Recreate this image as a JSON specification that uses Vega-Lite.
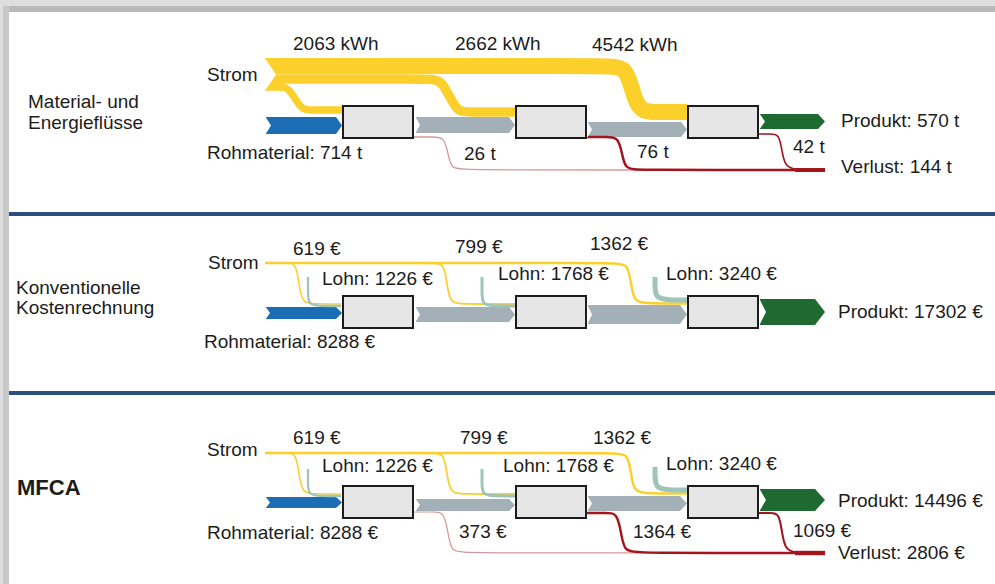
{
  "$schema": "https://vega.github.io/schema/vega-lite/v6.json",
  "width": 995,
  "height": 584,
  "autosize": {"type": "fit", "contains": "padding"},
  "padding": 0,
  "background": "white",
  "config": {"view": {"stroke": null}},
  "datasets": {
    "frame": [
      {"part": "Rahmen hell", "x": 0, "x2": 995, "y": 0, "y2": 6},
      {"part": "Rahmen dunkel", "x": 0, "x2": 995, "y": 6, "y2": 12},
      {"part": "Rahmen hell", "x": 0, "x2": 3, "y": 0, "y2": 584},
      {"part": "Rahmen links", "x": 3, "x2": 9, "y": 6, "y2": 584},
      {"part": "Trennlinie", "x": 9, "x2": 995, "y": 212, "y2": 216},
      {"part": "Trennlinie", "x": 9, "x2": 995, "y": 391, "y2": 395}
    ],
    "shapes": [
      {"shape": "P1 Rohmaterial", "part": "Rohmaterial", "x": 266, "y": 117, "y2": 134},
      {"shape": "P1 Rohmaterial", "part": "Rohmaterial", "x": 336, "y": 117, "y2": 134},
      {"shape": "P1 Rohmaterial", "part": "Rohmaterial", "x": 342, "y": 125.5, "y2": 125.5},
      {"shape": "P1 Zwischen 1", "part": "Zwischenprodukt", "x": 416, "y": 117, "y2": 133},
      {"shape": "P1 Zwischen 1", "part": "Zwischenprodukt", "x": 509, "y": 117, "y2": 133},
      {"shape": "P1 Zwischen 1", "part": "Zwischenprodukt", "x": 515, "y": 125, "y2": 125},
      {"shape": "P1 Zwischen 2", "part": "Zwischenprodukt", "x": 588, "y": 122, "y2": 137},
      {"shape": "P1 Zwischen 2", "part": "Zwischenprodukt", "x": 681, "y": 122, "y2": 137},
      {"shape": "P1 Zwischen 2", "part": "Zwischenprodukt", "x": 687, "y": 129.5, "y2": 129.5},
      {"shape": "P1 Produkt", "part": "Produkt", "x": 760, "y": 114, "y2": 129},
      {"shape": "P1 Produkt", "part": "Produkt", "x": 818, "y": 114, "y2": 129},
      {"shape": "P1 Produkt", "part": "Produkt", "x": 825, "y": 121.5, "y2": 121.5},
      {"shape": "P2 Rohmaterial", "part": "Rohmaterial", "x": 266, "y": 307, "y2": 319},
      {"shape": "P2 Rohmaterial", "part": "Rohmaterial", "x": 336, "y": 307, "y2": 319},
      {"shape": "P2 Rohmaterial", "part": "Rohmaterial", "x": 342, "y": 313, "y2": 313},
      {"shape": "P2 Zwischen 1", "part": "Zwischenprodukt", "x": 416, "y": 307, "y2": 322},
      {"shape": "P2 Zwischen 1", "part": "Zwischenprodukt", "x": 509, "y": 307, "y2": 322},
      {"shape": "P2 Zwischen 1", "part": "Zwischenprodukt", "x": 515, "y": 314.5, "y2": 314.5},
      {"shape": "P2 Zwischen 2", "part": "Zwischenprodukt", "x": 588, "y": 305, "y2": 324},
      {"shape": "P2 Zwischen 2", "part": "Zwischenprodukt", "x": 680, "y": 305, "y2": 324},
      {"shape": "P2 Zwischen 2", "part": "Zwischenprodukt", "x": 687, "y": 314.5, "y2": 314.5},
      {"shape": "P2 Produkt", "part": "Produkt", "x": 760, "y": 299, "y2": 325},
      {"shape": "P2 Produkt", "part": "Produkt", "x": 815, "y": 299, "y2": 325},
      {"shape": "P2 Produkt", "part": "Produkt", "x": 825, "y": 312, "y2": 312},
      {"shape": "P3 Rohmaterial", "part": "Rohmaterial", "x": 266, "y": 497, "y2": 508},
      {"shape": "P3 Rohmaterial", "part": "Rohmaterial", "x": 336, "y": 497, "y2": 508},
      {"shape": "P3 Rohmaterial", "part": "Rohmaterial", "x": 342, "y": 502.5, "y2": 502.5},
      {"shape": "P3 Zwischen 1", "part": "Zwischenprodukt", "x": 416, "y": 499, "y2": 511},
      {"shape": "P3 Zwischen 1", "part": "Zwischenprodukt", "x": 509, "y": 499, "y2": 511},
      {"shape": "P3 Zwischen 1", "part": "Zwischenprodukt", "x": 515, "y": 505, "y2": 505},
      {"shape": "P3 Zwischen 2", "part": "Zwischenprodukt", "x": 588, "y": 496, "y2": 511},
      {"shape": "P3 Zwischen 2", "part": "Zwischenprodukt", "x": 680, "y": 496, "y2": 511},
      {"shape": "P3 Zwischen 2", "part": "Zwischenprodukt", "x": 687, "y": 503.5, "y2": 503.5},
      {"shape": "P3 Produkt", "part": "Produkt", "x": 760, "y": 489, "y2": 511},
      {"shape": "P3 Produkt", "part": "Produkt", "x": 815, "y": 489, "y2": 511},
      {"shape": "P3 Produkt", "part": "Produkt", "x": 825, "y": 500, "y2": 500},

      {"shape": "K P1 Strom", "part": "Kerbe", "x": 264, "y": 57, "y2": 92},
      {"shape": "K P1 Strom", "part": "Kerbe", "x": 276, "y": 74.5, "y2": 74.5},
      {"shape": "K P1 Roh", "part": "Kerbe", "x": 265, "y": 116, "y2": 135},
      {"shape": "K P1 Roh", "part": "Kerbe", "x": 271, "y": 125.5, "y2": 125.5},
      {"shape": "K P1 Z1", "part": "Kerbe", "x": 415, "y": 116, "y2": 134},
      {"shape": "K P1 Z1", "part": "Kerbe", "x": 420, "y": 125, "y2": 125},
      {"shape": "K P1 Z2", "part": "Kerbe", "x": 587, "y": 121, "y2": 138},
      {"shape": "K P1 Z2", "part": "Kerbe", "x": 592, "y": 129.5, "y2": 129.5},
      {"shape": "K P1 Prod", "part": "Kerbe", "x": 759, "y": 113, "y2": 130},
      {"shape": "K P1 Prod", "part": "Kerbe", "x": 765, "y": 121.5, "y2": 121.5},
      {"shape": "K P2 Roh", "part": "Kerbe", "x": 265, "y": 306, "y2": 320},
      {"shape": "K P2 Roh", "part": "Kerbe", "x": 270, "y": 313, "y2": 313},
      {"shape": "K P2 Z1", "part": "Kerbe", "x": 415, "y": 306, "y2": 323},
      {"shape": "K P2 Z1", "part": "Kerbe", "x": 420, "y": 314.5, "y2": 314.5},
      {"shape": "K P2 Z2", "part": "Kerbe", "x": 587, "y": 304, "y2": 325},
      {"shape": "K P2 Z2", "part": "Kerbe", "x": 592, "y": 314.5, "y2": 314.5},
      {"shape": "K P2 Prod", "part": "Kerbe", "x": 759, "y": 298, "y2": 326},
      {"shape": "K P2 Prod", "part": "Kerbe", "x": 766, "y": 312, "y2": 312},
      {"shape": "K P3 Roh", "part": "Kerbe", "x": 265, "y": 496, "y2": 509},
      {"shape": "K P3 Roh", "part": "Kerbe", "x": 270, "y": 502.5, "y2": 502.5},
      {"shape": "K P3 Z1", "part": "Kerbe", "x": 415, "y": 498, "y2": 512},
      {"shape": "K P3 Z1", "part": "Kerbe", "x": 420, "y": 505, "y2": 505},
      {"shape": "K P3 Z2", "part": "Kerbe", "x": 587, "y": 495, "y2": 512},
      {"shape": "K P3 Z2", "part": "Kerbe", "x": 592, "y": 503.5, "y2": 503.5},
      {"shape": "K P3 Prod", "part": "Kerbe", "x": 759, "y": 488, "y2": 512},
      {"shape": "K P3 Prod", "part": "Kerbe", "x": 766, "y": 500, "y2": 500}
    ],
    "flows": [
      {"flow": "P1 Strom 1", "part": "Strom", "unit": "kWh", "amount": 2063, "i": 0, "x": 265, "y": 87},
      {"flow": "P1 Strom 1", "part": "Strom", "unit": "kWh", "amount": 2063, "i": 1, "x": 280, "y": 87},
      {"flow": "P1 Strom 1", "part": "Strom", "unit": "kWh", "amount": 2063, "i": 2, "x": 289, "y": 87},
      {"flow": "P1 Strom 1", "part": "Strom", "unit": "kWh", "amount": 2063, "i": 3, "x": 301, "y": 110},
      {"flow": "P1 Strom 1", "part": "Strom", "unit": "kWh", "amount": 2063, "i": 4, "x": 311, "y": 110},
      {"flow": "P1 Strom 1", "part": "Strom", "unit": "kWh", "amount": 2063, "i": 5, "x": 342, "y": 110},
      {"flow": "P1 Strom 2", "part": "Strom", "unit": "kWh", "amount": 2662, "i": 0, "x": 265, "y": 79},
      {"flow": "P1 Strom 2", "part": "Strom", "unit": "kWh", "amount": 2662, "i": 1, "x": 430, "y": 79},
      {"flow": "P1 Strom 2", "part": "Strom", "unit": "kWh", "amount": 2662, "i": 2, "x": 442, "y": 79},
      {"flow": "P1 Strom 2", "part": "Strom", "unit": "kWh", "amount": 2662, "i": 3, "x": 456, "y": 112},
      {"flow": "P1 Strom 2", "part": "Strom", "unit": "kWh", "amount": 2662, "i": 4, "x": 468, "y": 112},
      {"flow": "P1 Strom 2", "part": "Strom", "unit": "kWh", "amount": 2662, "i": 5, "x": 515, "y": 112},
      {"flow": "P1 Strom 3", "part": "Strom", "unit": "kWh", "amount": 4542, "i": 0, "x": 265, "y": 66},
      {"flow": "P1 Strom 3", "part": "Strom", "unit": "kWh", "amount": 4542, "i": 1, "x": 606, "y": 66},
      {"flow": "P1 Strom 3", "part": "Strom", "unit": "kWh", "amount": 4542, "i": 2, "x": 625, "y": 66},
      {"flow": "P1 Strom 3", "part": "Strom", "unit": "kWh", "amount": 4542, "i": 3, "x": 632, "y": 89},
      {"flow": "P1 Strom 3", "part": "Strom", "unit": "kWh", "amount": 4542, "i": 4, "x": 639, "y": 112},
      {"flow": "P1 Strom 3", "part": "Strom", "unit": "kWh", "amount": 4542, "i": 5, "x": 658, "y": 112},
      {"flow": "P1 Strom 3", "part": "Strom", "unit": "kWh", "amount": 4542, "i": 6, "x": 687, "y": 112},

      {"flow": "P1 Verlust 1", "part": "Verlust Schritt 1", "unit": "t", "amount": 26, "i": 0, "x": 414, "y": 137},
      {"flow": "P1 Verlust 1", "part": "Verlust Schritt 1", "unit": "t", "amount": 26, "i": 1, "x": 433, "y": 137},
      {"flow": "P1 Verlust 1", "part": "Verlust Schritt 1", "unit": "t", "amount": 26, "i": 2, "x": 444, "y": 137},
      {"flow": "P1 Verlust 1", "part": "Verlust Schritt 1", "unit": "t", "amount": 26, "i": 3, "x": 448, "y": 153},
      {"flow": "P1 Verlust 1", "part": "Verlust Schritt 1", "unit": "t", "amount": 26, "i": 4, "x": 451, "y": 169},
      {"flow": "P1 Verlust 1", "part": "Verlust Schritt 1", "unit": "t", "amount": 26, "i": 5, "x": 464, "y": 170},
      {"flow": "P1 Verlust 1", "part": "Verlust Schritt 1", "unit": "t", "amount": 26, "i": 6, "x": 800, "y": 170},
      {"flow": "P1 Verlust 2", "part": "Verlust", "unit": "t", "amount": 76, "i": 0, "x": 586, "y": 137},
      {"flow": "P1 Verlust 2", "part": "Verlust", "unit": "t", "amount": 76, "i": 1, "x": 607, "y": 137},
      {"flow": "P1 Verlust 2", "part": "Verlust", "unit": "t", "amount": 76, "i": 2, "x": 618, "y": 137},
      {"flow": "P1 Verlust 2", "part": "Verlust", "unit": "t", "amount": 76, "i": 3, "x": 622, "y": 153},
      {"flow": "P1 Verlust 2", "part": "Verlust", "unit": "t", "amount": 76, "i": 4, "x": 625, "y": 169},
      {"flow": "P1 Verlust 2", "part": "Verlust", "unit": "t", "amount": 76, "i": 5, "x": 638, "y": 170},
      {"flow": "P1 Verlust 2", "part": "Verlust", "unit": "t", "amount": 76, "i": 6, "x": 800, "y": 170},
      {"flow": "P1 Verlust 3", "part": "Verlust", "unit": "t", "amount": 42, "i": 0, "x": 758, "y": 134},
      {"flow": "P1 Verlust 3", "part": "Verlust", "unit": "t", "amount": 42, "i": 1, "x": 771, "y": 134},
      {"flow": "P1 Verlust 3", "part": "Verlust", "unit": "t", "amount": 42, "i": 2, "x": 779, "y": 134},
      {"flow": "P1 Verlust 3", "part": "Verlust", "unit": "t", "amount": 42, "i": 3, "x": 782, "y": 151},
      {"flow": "P1 Verlust 3", "part": "Verlust", "unit": "t", "amount": 42, "i": 4, "x": 785, "y": 167},
      {"flow": "P1 Verlust 3", "part": "Verlust", "unit": "t", "amount": 42, "i": 5, "x": 797, "y": 170},
      {"flow": "P1 Verlust 3", "part": "Verlust", "unit": "t", "amount": 42, "i": 6, "x": 810, "y": 170},
      {"flow": "P1 Verlust gesamt", "part": "Verlust", "unit": "t", "amount": 144, "i": 0, "x": 795, "y": 170},
      {"flow": "P1 Verlust gesamt", "part": "Verlust", "unit": "t", "amount": 144, "i": 1, "x": 825, "y": 170},

      {"flow": "P2 Strom 1", "part": "Strom", "unit": "EUR", "amount": 619, "i": 0, "x": 265, "y": 263},
      {"flow": "P2 Strom 1", "part": "Strom", "unit": "EUR", "amount": 619, "i": 1, "x": 287, "y": 263},
      {"flow": "P2 Strom 1", "part": "Strom", "unit": "EUR", "amount": 619, "i": 2, "x": 296, "y": 263},
      {"flow": "P2 Strom 1", "part": "Strom", "unit": "EUR", "amount": 619, "i": 3, "x": 299, "y": 284},
      {"flow": "P2 Strom 1", "part": "Strom", "unit": "EUR", "amount": 619, "i": 4, "x": 302, "y": 303},
      {"flow": "P2 Strom 1", "part": "Strom", "unit": "EUR", "amount": 619, "i": 5, "x": 314, "y": 304},
      {"flow": "P2 Strom 1", "part": "Strom", "unit": "EUR", "amount": 619, "i": 6, "x": 341, "y": 304},
      {"flow": "P2 Strom 2", "part": "Strom", "unit": "EUR", "amount": 799, "i": 0, "x": 265, "y": 263},
      {"flow": "P2 Strom 2", "part": "Strom", "unit": "EUR", "amount": 799, "i": 1, "x": 433, "y": 263},
      {"flow": "P2 Strom 2", "part": "Strom", "unit": "EUR", "amount": 799, "i": 2, "x": 444, "y": 263},
      {"flow": "P2 Strom 2", "part": "Strom", "unit": "EUR", "amount": 799, "i": 3, "x": 447, "y": 284},
      {"flow": "P2 Strom 2", "part": "Strom", "unit": "EUR", "amount": 799, "i": 4, "x": 450, "y": 303},
      {"flow": "P2 Strom 2", "part": "Strom", "unit": "EUR", "amount": 799, "i": 5, "x": 462, "y": 304},
      {"flow": "P2 Strom 2", "part": "Strom", "unit": "EUR", "amount": 799, "i": 6, "x": 515, "y": 304},
      {"flow": "P2 Strom 3", "part": "Strom", "unit": "EUR", "amount": 1362, "i": 0, "x": 265, "y": 263},
      {"flow": "P2 Strom 3", "part": "Strom", "unit": "EUR", "amount": 1362, "i": 1, "x": 614, "y": 263},
      {"flow": "P2 Strom 3", "part": "Strom", "unit": "EUR", "amount": 1362, "i": 2, "x": 628, "y": 263},
      {"flow": "P2 Strom 3", "part": "Strom", "unit": "EUR", "amount": 1362, "i": 3, "x": 631, "y": 284},
      {"flow": "P2 Strom 3", "part": "Strom", "unit": "EUR", "amount": 1362, "i": 4, "x": 634, "y": 302},
      {"flow": "P2 Strom 3", "part": "Strom", "unit": "EUR", "amount": 1362, "i": 5, "x": 647, "y": 303.5},
      {"flow": "P2 Strom 3", "part": "Strom", "unit": "EUR", "amount": 1362, "i": 6, "x": 687, "y": 303.5},
      {"flow": "P2 Lohn 1", "part": "Lohn", "unit": "EUR", "amount": 1226, "i": 0, "x": 308, "y": 277},
      {"flow": "P2 Lohn 1", "part": "Lohn", "unit": "EUR", "amount": 1226, "i": 1, "x": 308, "y": 291},
      {"flow": "P2 Lohn 1", "part": "Lohn", "unit": "EUR", "amount": 1226, "i": 2, "x": 308, "y": 305},
      {"flow": "P2 Lohn 1", "part": "Lohn", "unit": "EUR", "amount": 1226, "i": 3, "x": 320, "y": 306},
      {"flow": "P2 Lohn 1", "part": "Lohn", "unit": "EUR", "amount": 1226, "i": 4, "x": 341, "y": 306},
      {"flow": "P2 Lohn 2", "part": "Lohn", "unit": "EUR", "amount": 1768, "i": 0, "x": 482, "y": 277},
      {"flow": "P2 Lohn 2", "part": "Lohn", "unit": "EUR", "amount": 1768, "i": 1, "x": 482, "y": 291},
      {"flow": "P2 Lohn 2", "part": "Lohn", "unit": "EUR", "amount": 1768, "i": 2, "x": 482, "y": 305},
      {"flow": "P2 Lohn 2", "part": "Lohn", "unit": "EUR", "amount": 1768, "i": 3, "x": 494, "y": 306},
      {"flow": "P2 Lohn 2", "part": "Lohn", "unit": "EUR", "amount": 1768, "i": 4, "x": 515, "y": 306},
      {"flow": "P2 Lohn 3", "part": "Lohn", "unit": "EUR", "amount": 3240, "i": 0, "x": 655, "y": 277},
      {"flow": "P2 Lohn 3", "part": "Lohn", "unit": "EUR", "amount": 3240, "i": 1, "x": 655, "y": 288},
      {"flow": "P2 Lohn 3", "part": "Lohn", "unit": "EUR", "amount": 3240, "i": 2, "x": 656, "y": 298},
      {"flow": "P2 Lohn 3", "part": "Lohn", "unit": "EUR", "amount": 3240, "i": 3, "x": 668, "y": 300},
      {"flow": "P2 Lohn 3", "part": "Lohn", "unit": "EUR", "amount": 3240, "i": 4, "x": 687, "y": 300},

      {"flow": "P3 Strom 1", "part": "Strom", "unit": "EUR", "amount": 619, "i": 0, "x": 265, "y": 453},
      {"flow": "P3 Strom 1", "part": "Strom", "unit": "EUR", "amount": 619, "i": 1, "x": 287, "y": 453},
      {"flow": "P3 Strom 1", "part": "Strom", "unit": "EUR", "amount": 619, "i": 2, "x": 296, "y": 453},
      {"flow": "P3 Strom 1", "part": "Strom", "unit": "EUR", "amount": 619, "i": 3, "x": 299, "y": 474},
      {"flow": "P3 Strom 1", "part": "Strom", "unit": "EUR", "amount": 619, "i": 4, "x": 302, "y": 493},
      {"flow": "P3 Strom 1", "part": "Strom", "unit": "EUR", "amount": 619, "i": 5, "x": 314, "y": 494},
      {"flow": "P3 Strom 1", "part": "Strom", "unit": "EUR", "amount": 619, "i": 6, "x": 341, "y": 494},
      {"flow": "P3 Strom 2", "part": "Strom", "unit": "EUR", "amount": 799, "i": 0, "x": 265, "y": 453},
      {"flow": "P3 Strom 2", "part": "Strom", "unit": "EUR", "amount": 799, "i": 1, "x": 433, "y": 453},
      {"flow": "P3 Strom 2", "part": "Strom", "unit": "EUR", "amount": 799, "i": 2, "x": 444, "y": 453},
      {"flow": "P3 Strom 2", "part": "Strom", "unit": "EUR", "amount": 799, "i": 3, "x": 447, "y": 474},
      {"flow": "P3 Strom 2", "part": "Strom", "unit": "EUR", "amount": 799, "i": 4, "x": 450, "y": 493},
      {"flow": "P3 Strom 2", "part": "Strom", "unit": "EUR", "amount": 799, "i": 5, "x": 462, "y": 494},
      {"flow": "P3 Strom 2", "part": "Strom", "unit": "EUR", "amount": 799, "i": 6, "x": 515, "y": 494},
      {"flow": "P3 Strom 3", "part": "Strom", "unit": "EUR", "amount": 1362, "i": 0, "x": 265, "y": 453},
      {"flow": "P3 Strom 3", "part": "Strom", "unit": "EUR", "amount": 1362, "i": 1, "x": 614, "y": 453},
      {"flow": "P3 Strom 3", "part": "Strom", "unit": "EUR", "amount": 1362, "i": 2, "x": 628, "y": 453},
      {"flow": "P3 Strom 3", "part": "Strom", "unit": "EUR", "amount": 1362, "i": 3, "x": 631, "y": 474},
      {"flow": "P3 Strom 3", "part": "Strom", "unit": "EUR", "amount": 1362, "i": 4, "x": 634, "y": 492},
      {"flow": "P3 Strom 3", "part": "Strom", "unit": "EUR", "amount": 1362, "i": 5, "x": 647, "y": 493.5},
      {"flow": "P3 Strom 3", "part": "Strom", "unit": "EUR", "amount": 1362, "i": 6, "x": 687, "y": 493.5},
      {"flow": "P3 Lohn 1", "part": "Lohn", "unit": "EUR", "amount": 1226, "i": 0, "x": 308, "y": 469},
      {"flow": "P3 Lohn 1", "part": "Lohn", "unit": "EUR", "amount": 1226, "i": 1, "x": 308, "y": 482},
      {"flow": "P3 Lohn 1", "part": "Lohn", "unit": "EUR", "amount": 1226, "i": 2, "x": 308, "y": 495},
      {"flow": "P3 Lohn 1", "part": "Lohn", "unit": "EUR", "amount": 1226, "i": 3, "x": 320, "y": 496},
      {"flow": "P3 Lohn 1", "part": "Lohn", "unit": "EUR", "amount": 1226, "i": 4, "x": 341, "y": 496},
      {"flow": "P3 Lohn 2", "part": "Lohn", "unit": "EUR", "amount": 1768, "i": 0, "x": 482, "y": 469},
      {"flow": "P3 Lohn 2", "part": "Lohn", "unit": "EUR", "amount": 1768, "i": 1, "x": 482, "y": 482},
      {"flow": "P3 Lohn 2", "part": "Lohn", "unit": "EUR", "amount": 1768, "i": 2, "x": 482, "y": 495},
      {"flow": "P3 Lohn 2", "part": "Lohn", "unit": "EUR", "amount": 1768, "i": 3, "x": 494, "y": 496},
      {"flow": "P3 Lohn 2", "part": "Lohn", "unit": "EUR", "amount": 1768, "i": 4, "x": 515, "y": 496},
      {"flow": "P3 Lohn 3", "part": "Lohn", "unit": "EUR", "amount": 3240, "i": 0, "x": 655, "y": 467},
      {"flow": "P3 Lohn 3", "part": "Lohn", "unit": "EUR", "amount": 3240, "i": 1, "x": 655, "y": 478},
      {"flow": "P3 Lohn 3", "part": "Lohn", "unit": "EUR", "amount": 3240, "i": 2, "x": 656, "y": 488},
      {"flow": "P3 Lohn 3", "part": "Lohn", "unit": "EUR", "amount": 3240, "i": 3, "x": 668, "y": 490},
      {"flow": "P3 Lohn 3", "part": "Lohn", "unit": "EUR", "amount": 3240, "i": 4, "x": 687, "y": 490},
      {"flow": "P3 Verlust 1", "part": "Verlust Schritt 1", "unit": "EUR", "amount": 373, "i": 0, "x": 414, "y": 512},
      {"flow": "P3 Verlust 1", "part": "Verlust Schritt 1", "unit": "EUR", "amount": 373, "i": 1, "x": 434, "y": 512},
      {"flow": "P3 Verlust 1", "part": "Verlust Schritt 1", "unit": "EUR", "amount": 373, "i": 2, "x": 444, "y": 512},
      {"flow": "P3 Verlust 1", "part": "Verlust Schritt 1", "unit": "EUR", "amount": 373, "i": 3, "x": 448, "y": 532},
      {"flow": "P3 Verlust 1", "part": "Verlust Schritt 1", "unit": "EUR", "amount": 373, "i": 4, "x": 451, "y": 552},
      {"flow": "P3 Verlust 1", "part": "Verlust Schritt 1", "unit": "EUR", "amount": 373, "i": 5, "x": 464, "y": 553},
      {"flow": "P3 Verlust 1", "part": "Verlust Schritt 1", "unit": "EUR", "amount": 373, "i": 6, "x": 800, "y": 553},
      {"flow": "P3 Verlust 2", "part": "Verlust", "unit": "EUR", "amount": 1364, "i": 0, "x": 587, "y": 513},
      {"flow": "P3 Verlust 2", "part": "Verlust", "unit": "EUR", "amount": 1364, "i": 1, "x": 607, "y": 513},
      {"flow": "P3 Verlust 2", "part": "Verlust", "unit": "EUR", "amount": 1364, "i": 2, "x": 617, "y": 513},
      {"flow": "P3 Verlust 2", "part": "Verlust", "unit": "EUR", "amount": 1364, "i": 3, "x": 621, "y": 532},
      {"flow": "P3 Verlust 2", "part": "Verlust", "unit": "EUR", "amount": 1364, "i": 4, "x": 624, "y": 551},
      {"flow": "P3 Verlust 2", "part": "Verlust", "unit": "EUR", "amount": 1364, "i": 5, "x": 637, "y": 553},
      {"flow": "P3 Verlust 2", "part": "Verlust", "unit": "EUR", "amount": 1364, "i": 6, "x": 800, "y": 553},
      {"flow": "P3 Verlust 3", "part": "Verlust", "unit": "EUR", "amount": 1069, "i": 0, "x": 758, "y": 513},
      {"flow": "P3 Verlust 3", "part": "Verlust", "unit": "EUR", "amount": 1069, "i": 1, "x": 771, "y": 513},
      {"flow": "P3 Verlust 3", "part": "Verlust", "unit": "EUR", "amount": 1069, "i": 2, "x": 779, "y": 513},
      {"flow": "P3 Verlust 3", "part": "Verlust", "unit": "EUR", "amount": 1069, "i": 3, "x": 782, "y": 532},
      {"flow": "P3 Verlust 3", "part": "Verlust", "unit": "EUR", "amount": 1069, "i": 4, "x": 785, "y": 550},
      {"flow": "P3 Verlust 3", "part": "Verlust", "unit": "EUR", "amount": 1069, "i": 5, "x": 797, "y": 553},
      {"flow": "P3 Verlust 3", "part": "Verlust", "unit": "EUR", "amount": 1069, "i": 6, "x": 810, "y": 553},
      {"flow": "P3 Verlust gesamt", "part": "Verlust", "unit": "EUR", "amount": 2806, "i": 0, "x": 795, "y": 553},
      {"flow": "P3 Verlust gesamt", "part": "Verlust", "unit": "EUR", "amount": 2806, "i": 1, "x": 825, "y": 553}
    ],
    "boxes": [
      {"panel": 1, "step": 1, "x": 343, "x2": 413, "y": 106, "y2": 138},
      {"panel": 1, "step": 2, "x": 516, "x2": 586, "y": 106, "y2": 138},
      {"panel": 1, "step": 3, "x": 688, "x2": 758, "y": 106, "y2": 138},
      {"panel": 2, "step": 1, "x": 343, "x2": 413, "y": 296, "y2": 328},
      {"panel": 2, "step": 2, "x": 516, "x2": 586, "y": 296, "y2": 328},
      {"panel": 2, "step": 3, "x": 688, "x2": 758, "y": 296, "y2": 328},
      {"panel": 3, "step": 1, "x": 343, "x2": 413, "y": 486, "y2": 518},
      {"panel": 3, "step": 2, "x": 516, "x2": 586, "y": 486, "y2": 518},
      {"panel": 3, "step": 3, "x": 688, "x2": 758, "y": 486, "y2": 518}
    ],
    "labels": [
      {"label": "Material- und", "x": 28, "y": 102},
      {"label": "Energieflüsse", "x": 28, "y": 123},
      {"label": "2063 kWh", "x": 293, "y": 44},
      {"label": "2662 kWh", "x": 455, "y": 44},
      {"label": "4542 kWh", "x": 592, "y": 45},
      {"label": "Strom", "x": 207, "y": 75},
      {"label": "Rohmaterial: 714 t", "x": 207, "y": 153},
      {"label": "26 t", "x": 464, "y": 154},
      {"label": "76 t", "x": 637, "y": 152},
      {"label": "42 t", "x": 793, "y": 147},
      {"label": "Produkt: 570 t", "x": 841, "y": 121},
      {"label": "Verlust: 144 t", "x": 841, "y": 167},
      {"label": "Konventionelle", "x": 16, "y": 288},
      {"label": "Kostenrechnung", "x": 16, "y": 308},
      {"label": "619 €", "x": 293, "y": 249},
      {"label": "799 €", "x": 455, "y": 247},
      {"label": "1362 €", "x": 590, "y": 244},
      {"label": "Strom", "x": 208, "y": 263},
      {"label": "Lohn: 1226 €", "x": 322, "y": 279},
      {"label": "Lohn: 1768 €", "x": 498, "y": 274},
      {"label": "Lohn: 3240 €", "x": 666, "y": 274},
      {"label": "Rohmaterial: 8288 €", "x": 204, "y": 342},
      {"label": "Produkt: 17302 €", "x": 838, "y": 312},
      {"label": "MFCA", "x": 17, "y": 488},
      {"label": "619 €", "x": 293, "y": 438},
      {"label": "799 €", "x": 460, "y": 438},
      {"label": "1362 €", "x": 593, "y": 438},
      {"label": "Strom", "x": 207, "y": 450},
      {"label": "Lohn: 1226 €", "x": 322, "y": 466},
      {"label": "Lohn: 1768 €", "x": 503, "y": 466},
      {"label": "Lohn: 3240 €", "x": 666, "y": 464},
      {"label": "Rohmaterial: 8288 €", "x": 207, "y": 533},
      {"label": "373 €", "x": 459, "y": 532},
      {"label": "1364 €", "x": 633, "y": 532},
      {"label": "1069 €", "x": 793, "y": 531},
      {"label": "Produkt: 14496 €", "x": 838, "y": 501},
      {"label": "Verlust: 2806 €", "x": 838, "y": 553}
    ]
  },
  "layer": [
    {
      "data": {"name": "frame"},
      "mark": {"type": "rect"},
      "encoding": {
        "x": {"field": "x", "type": "quantitative", "scale": {"domain": [0, 995], "nice": false, "zero": false}, "axis": null},
        "x2": {"field": "x2"},
        "y": {"field": "y", "type": "quantitative", "scale": {"domain": [0, 584], "nice": false, "zero": false, "reverse": true}, "axis": null},
        "y2": {"field": "y2"},
        "color": {"field": "part", "type": "nominal", "legend": null,
          "scale": {"domain": ["Rahmen hell", "Rahmen dunkel", "Rahmen links", "Trennlinie", "Strom", "Lohn", "Rohmaterial", "Zwischenprodukt", "Produkt", "Verlust", "Verlust Schritt 1", "Kerbe"],
                    "range": ["#dedede", "#bababa", "#c8c8c8", "#2b4f7e", "#fbd02a", "#9fc4ba", "#1b6db4", "#a3b0b8", "#1e6a30", "#a2151c", "#d6979a", "#ffffff"]}}
      }
    },
    {
      "data": {"name": "shapes"},
      "transform": [{"filter": "datum.part !== 'Kerbe'"}],
      "mark": {"type": "area", "orient": "vertical", "interpolate": "linear"},
      "encoding": {
        "x": {"field": "x", "type": "quantitative", "scale": {"domain": [0, 995], "nice": false, "zero": false}, "axis": null},
        "y": {"field": "y", "type": "quantitative", "stack": null, "scale": {"domain": [0, 584], "nice": false, "zero": false, "reverse": true}, "axis": null},
        "y2": {"field": "y2"},
        "detail": {"field": "shape"},
        "color": {"field": "part", "type": "nominal", "legend": null}
      }
    },
    {
      "data": {"name": "flows"},
      "transform": [{"filter": "datum.unit === 'kWh'"}],
      "mark": {"type": "line", "interpolate": "basis", "strokeCap": "butt"},
      "encoding": {
        "x": {"field": "x", "type": "quantitative", "scale": {"domain": [0, 995], "nice": false, "zero": false}, "axis": null},
        "y": {"field": "y", "type": "quantitative", "scale": {"domain": [0, 584], "nice": false, "zero": false, "reverse": true}, "axis": null},
        "detail": {"field": "flow"},
        "order": {"field": "i", "type": "quantitative"},
        "color": {"field": "part", "type": "nominal", "legend": null},
        "strokeWidth": {"field": "amount", "type": "quantitative", "legend": null, "scale": {"domain": [0, 4542], "range": [0, 16]}}
      }
    },
    {
      "data": {"name": "flows"},
      "transform": [{"filter": "datum.unit === 't'"}],
      "mark": {"type": "line", "interpolate": "basis", "strokeCap": "butt"},
      "encoding": {
        "x": {"field": "x", "type": "quantitative", "scale": {"domain": [0, 995], "nice": false, "zero": false}, "axis": null},
        "y": {"field": "y", "type": "quantitative", "scale": {"domain": [0, 584], "nice": false, "zero": false, "reverse": true}, "axis": null},
        "detail": {"field": "flow"},
        "order": {"field": "i", "type": "quantitative"},
        "color": {"field": "part", "type": "nominal", "legend": null},
        "strokeWidth": {"field": "amount", "type": "quantitative", "legend": null, "scale": {"domain": [0, 30, 144], "range": [0.8, 1.4, 4]}}
      }
    },
    {
      "data": {"name": "flows"},
      "transform": [{"filter": "datum.unit === 'EUR'"}],
      "mark": {"type": "line", "interpolate": "basis", "strokeCap": "butt"},
      "encoding": {
        "x": {"field": "x", "type": "quantitative", "scale": {"domain": [0, 995], "nice": false, "zero": false}, "axis": null},
        "y": {"field": "y", "type": "quantitative", "scale": {"domain": [0, 584], "nice": false, "zero": false, "reverse": true}, "axis": null},
        "detail": {"field": "flow"},
        "order": {"field": "i", "type": "quantitative"},
        "color": {"field": "part", "type": "nominal", "legend": null},
        "strokeWidth": {"field": "amount", "type": "quantitative", "legend": null, "scale": {"domain": [0, 1500, 3240], "range": [0.8, 2.6, 5]}}
      }
    },
    {
      "data": {"name": "shapes"},
      "transform": [{"filter": "datum.part === 'Kerbe'"}],
      "mark": {"type": "area", "orient": "vertical", "interpolate": "linear"},
      "encoding": {
        "x": {"field": "x", "type": "quantitative", "scale": {"domain": [0, 995], "nice": false, "zero": false}, "axis": null},
        "y": {"field": "y", "type": "quantitative", "stack": null, "scale": {"domain": [0, 584], "nice": false, "zero": false, "reverse": true}, "axis": null},
        "y2": {"field": "y2"},
        "detail": {"field": "shape"},
        "color": {"field": "part", "type": "nominal", "legend": null}
      }
    },
    {
      "data": {"name": "boxes"},
      "mark": {"type": "rect", "fill": "#e6e6e6", "stroke": "#1c1c1c", "strokeWidth": 2},
      "encoding": {
        "x": {"field": "x", "type": "quantitative", "scale": {"domain": [0, 995], "nice": false, "zero": false}, "axis": null},
        "x2": {"field": "x2"},
        "y": {"field": "y", "type": "quantitative", "scale": {"domain": [0, 584], "nice": false, "zero": false, "reverse": true}, "axis": null},
        "y2": {"field": "y2"}
      }
    },
    {
      "data": {"name": "labels"},
      "transform": [{"filter": "datum.label !== 'MFCA'"}],
      "mark": {"type": "text", "align": "left", "baseline": "middle", "font": "Liberation Sans", "fontSize": 19, "color": "#1c1c1c"},
      "encoding": {
        "x": {"field": "x", "type": "quantitative", "scale": {"domain": [0, 995], "nice": false, "zero": false}, "axis": null},
        "y": {"field": "y", "type": "quantitative", "scale": {"domain": [0, 584], "nice": false, "zero": false, "reverse": true}, "axis": null},
        "text": {"field": "label", "type": "nominal"}
      }
    },
    {
      "data": {"name": "labels"},
      "transform": [{"filter": "datum.label === 'MFCA'"}],
      "mark": {"type": "text", "align": "left", "baseline": "middle", "font": "Liberation Sans", "fontSize": 22, "fontWeight": "bold", "color": "#1c1c1c"},
      "encoding": {
        "x": {"field": "x", "type": "quantitative", "scale": {"domain": [0, 995], "nice": false, "zero": false}, "axis": null},
        "y": {"field": "y", "type": "quantitative", "scale": {"domain": [0, 584], "nice": false, "zero": false, "reverse": true}, "axis": null},
        "text": {"field": "label", "type": "nominal"}
      }
    }
  ],
  "resolve": {"scale": {"strokeWidth": "independent"}}
}
